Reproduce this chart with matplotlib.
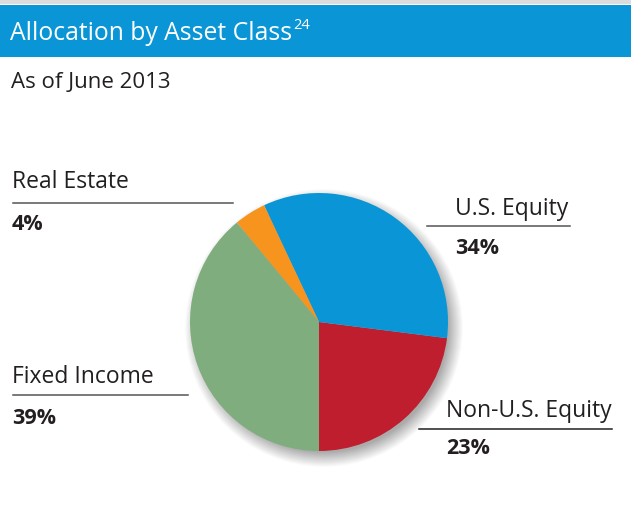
import numpy as np
import matplotlib
matplotlib.use("Agg")
import matplotlib.pyplot as plt
from matplotlib.patches import Rectangle, Circle

plt.rcParams['font.family'] = ['Open Sans', 'DejaVu Sans']

# data (counterclockwise from the bottom of the pie)
labels = ['Non-U.S. Equity', 'U.S. Equity', 'Real Estate', 'Fixed Income']
shares = [23, 34, 4, 39]
colors = ['#be1e2d', '#0a96d6', '#f7941d', '#7fad7e']

title = 'Allocation by Asset Class'
note = '24'
subtitle = 'As of June 2013'

W, H = 631, 521
fig = plt.figure(figsize=(W / 100, H / 100), dpi=100)
ax = fig.add_axes([0, 0, 1, 1])

def py(y):  # pixel row from the top -> data y
    return H - y

# pie with soft shadow
cx, cy, r = 319, py(322), 129
for i in range(28):
    ax.add_patch(Circle((cx + 5, cy - 6), r + 10 - i * 0.55, color='#000000',
                        alpha=0.012, lw=0, zorder=1))
wedges, _ = ax.pie(shares, colors=colors, startangle=-90, counterclock=True,
                   center=(cx, cy), radius=r, frame=True,
                   wedgeprops=dict(linewidth=0, zorder=2))
ax.set_xlim(0, W)
ax.set_ylim(0, H)
ax.set_aspect('equal')
ax.axis('off')

# header
ax.add_patch(Rectangle((0, py(4)), W, 4, color='#dcdcdc', lw=0))
ax.add_patch(Rectangle((0, py(57)), W, 52, color='#0a96d6', lw=0))
t = ax.text(10, py(40), title, color='white', fontsize=17.8, va='baseline')
fig.canvas.draw()
bb = t.get_window_extent()
ax.text(bb.x1 + 1, py(29), note, color='white', fontsize=10.5, va='baseline')
ax.text(11, py(88), subtitle, color='#231f20', fontsize=16, va='baseline')

# labels: (text x, label baseline, value baseline, line y, line x0, line x1, line colour)
label_pos = {
    'Real Estate': (12, 188, 230, 203, 13, 233, '#555555'),
    'U.S. Equity': (455, 215, 254, 226, 427, 570, '#555555'),
    'Fixed Income': (12, 383, 424, 395, 13, 188, '#555555'),
    'Non-U.S. Equity': (446, 417, 454, 429, 419, 612, '#231f20'),
}
for lab, val in zip(labels, shares):
    tx, ty, vy, ly, lx0, lx1, lc = label_pos[lab]
    ax.text(tx, py(ty), lab, color='#231f20', fontsize=16.5, va='baseline')
    ax.plot([lx0, lx1], [py(ly), py(ly)], color=lc, lw=1.1)
    ax.text(tx, py(vy), f'{val}%', color='#231f20', fontsize=15.5,
            fontweight='bold', va='baseline')

fig.savefig('out.png', dpi=100)
